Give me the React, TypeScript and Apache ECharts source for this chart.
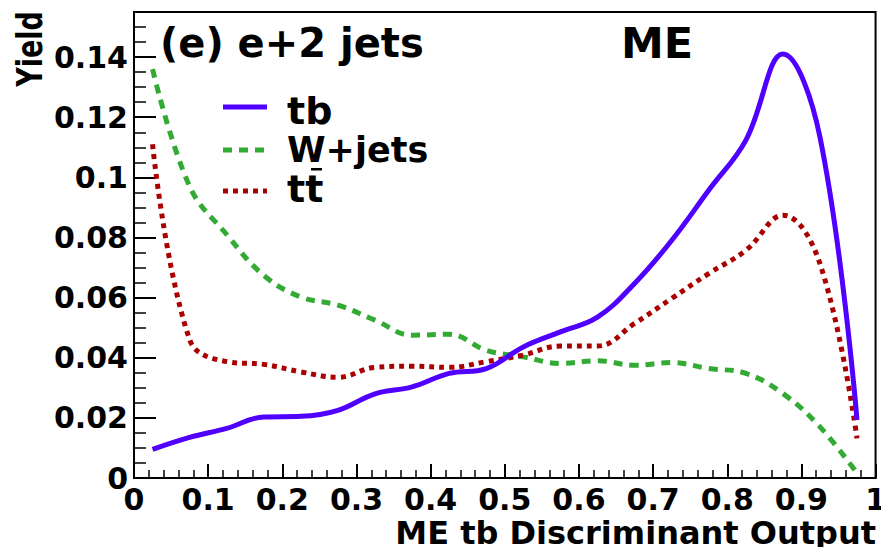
import React, { useEffect, useRef } from "react";
import * as echarts from "echarts";

// Bin centres of the ME tb discriminant (20 bins of width 0.05)
const binCenters = [
  0.025, 0.075, 0.125, 0.175, 0.225, 0.275, 0.325, 0.375, 0.425, 0.475,
  0.525, 0.575, 0.625, 0.675, 0.725, 0.775, 0.825, 0.875, 0.925, 0.975,
];

// Normalised yields per template
const tbYield = [
  0.0095, 0.0135, 0.0165, 0.0203, 0.0205, 0.0225, 0.028, 0.0303, 0.0348, 0.0364,
  0.0436, 0.0486, 0.0535, 0.0647, 0.079, 0.0957, 0.1123, 0.141, 0.1134, 0.0193,
];
const wjetsYield = [
  0.136, 0.097, 0.081, 0.0674, 0.0602, 0.0575, 0.0525, 0.0475, 0.0478, 0.0425,
  0.0403, 0.0381, 0.039, 0.0375, 0.0384, 0.0364, 0.0348, 0.0281, 0.017, 0.0016,
];
const ttbarYield = [
  0.111, 0.046, 0.0387, 0.0378, 0.0353, 0.0335, 0.0368, 0.0372, 0.0368, 0.0387,
  0.0409, 0.0439, 0.0439, 0.0514, 0.0597, 0.068, 0.0757, 0.0874, 0.0713, 0.0132,
];

const xTickLabels = ["0", "0.1", "0.2", "0.3", "0.4", "0.5", "0.6", "0.7", "0.8", "0.9", "1"];
const yTickLabels = ["0", "0.02", "0.04", "0.06", "0.08", "0.1", "0.12", "0.14"];

const FONT = "'DejaVu Sans', sans-serif";

const TB_COLOR = "#5000ff";
const WJETS_COLOR = "#33aa33";
const TTBAR_COLOR = "#aa0000";
const WJETS_DASH = [9, 7];
const TTBAR_DASH = [5, 5];

function labelFor(labels: string[], step: number) {
  return (v: number) => {
    const idx = Math.round(v / step);
    if (Math.abs(v - idx * step) > 1e-9 || idx < 0 || idx >= labels.length) return "";
    return labels[idx];
  };
}

function pairs(values: number[]) {
  return binCenters.map((x, i) => [x, values[i]]);
}

function legendEntry(y: number, color: string, dash: number[] | null, label: string, size: number, textY: number) {
  return [
    {
      type: "line",
      shape: { x1: 223, y1: y, x2: 267, y2: y },
      style: { stroke: color, lineWidth: 5, lineDash: dash || undefined },
    },
    {
      type: "text",
      x: 287,
      y: textY,
      style: {
        text: label,
        font: `bold ${size}px ${FONT}`,
        fill: "#000",
        align: "left",
        verticalAlign: "middle",
      },
    },
  ];
}

export default function App() {
  const ref = useRef<HTMLDivElement>(null);

  useEffect(() => {
    if (!ref.current) return;
    const chart = echarts.init(ref.current, null, { renderer: "svg" });

    const axisText = {
      color: "#000",
      fontFamily: FONT,
      fontWeight: "bold" as const,
      fontSize: 30,
    };

    chart.setOption({
      animation: false,
      backgroundColor: "#fff",
      grid: {
        left: 134,
        top: 12,
        right: 11,
        bottom: 77,
        show: true,
        borderColor: "#000",
        borderWidth: 2,
        containLabel: false,
      },
      xAxis: {
        type: "value",
        min: 0,
        max: 1,
        interval: 0.1,
        axisLine: { show: true, lineStyle: { color: "#000", width: 2 } },
        axisTick: { show: true, inside: true, length: 14, lineStyle: { color: "#000", width: 2 } },
        minorTick: { show: true, splitNumber: 5, length: 8, lineStyle: { color: "#000", width: 1.5 } },
        splitLine: { show: false },
        axisLabel: { ...axisText, margin: 10, lineHeight: 22, formatter: labelFor(xTickLabels, 0.1) },
      },
      yAxis: {
        type: "value",
        min: 0,
        max: 0.155,
        interval: 0.02,
        axisLine: { show: true, lineStyle: { color: "#000", width: 2 } },
        axisTick: { show: true, inside: true, length: 22, lineStyle: { color: "#000", width: 2 } },
        minorTick: { show: true, splitNumber: 4, length: 12, lineStyle: { color: "#000", width: 1.5 } },
        splitLine: { show: false },
        axisLabel: { ...axisText, margin: 6, padding: [6, 0, 0, 0], formatter: labelFor(yTickLabels, 0.02) },
      },
      series: [
        {
          name: "tb",
          type: "line",
          data: pairs(tbYield),
          smooth: 0.4,
          symbol: "none",
          lineStyle: { color: TB_COLOR, width: 5 },
          z: 3,
        },
        {
          name: "W+jets",
          type: "line",
          data: pairs(wjetsYield),
          smooth: 0.4,
          symbol: "none",
          lineStyle: { color: WJETS_COLOR, width: 5, type: WJETS_DASH },
          z: 2,
        },
        {
          name: "tt",
          type: "line",
          data: pairs(ttbarYield),
          smooth: 0.4,
          symbol: "none",
          lineStyle: { color: TTBAR_COLOR, width: 5, type: TTBAR_DASH },
          z: 2,
        },
      ],
      graphic: [
        {
          type: "text",
          x: 160,
          y: 43,
          style: {
            text: "(e) e+2 jets",
            font: `bold 40px ${FONT}`,
            fill: "#000",
            align: "left",
            verticalAlign: "middle",
          },
        },
        {
          type: "text",
          x: 621,
          y: 43,
          style: {
            text: "ME",
            font: `bold 43px ${FONT}`,
            fill: "#000",
            align: "left",
            verticalAlign: "middle",
          },
        },
        {
          type: "text",
          x: 876,
          y: 533,
          style: {
            text: "ME tb Discriminant Output",
            font: `bold 32px ${FONT}`,
            lineHeight: 24,
            fill: "#000",
            align: "right",
            verticalAlign: "middle",
          },
        },
        {
          type: "text",
          x: 30,
          y: 49,
          rotation: Math.PI / 2,
          scaleY: 1.3,
          style: {
            text: "Yield",
            font: `bold 27px ${FONT}`,
            fill: "#000",
            align: "center",
            verticalAlign: "middle",
          },
        },
        ...legendEntry(107, TB_COLOR, null, "tb", 38, 111),
        ...legendEntry(150, WJETS_COLOR, WJETS_DASH, "W+jets", 35, 150),
        ...legendEntry(191, TTBAR_COLOR, TTBAR_DASH, "tt", 38, 189),
        {
          // bar over the second t of the ttbar legend entry
          type: "rect",
          shape: { x: 311, y: 168, width: 11, height: 2.5 },
          style: { fill: "#000" },
        },
      ],
    });

    return () => chart.dispose();
  }, []);

  return <div ref={ref} style={{ width: 889, height: 555, margin: -8 }} />;
}
